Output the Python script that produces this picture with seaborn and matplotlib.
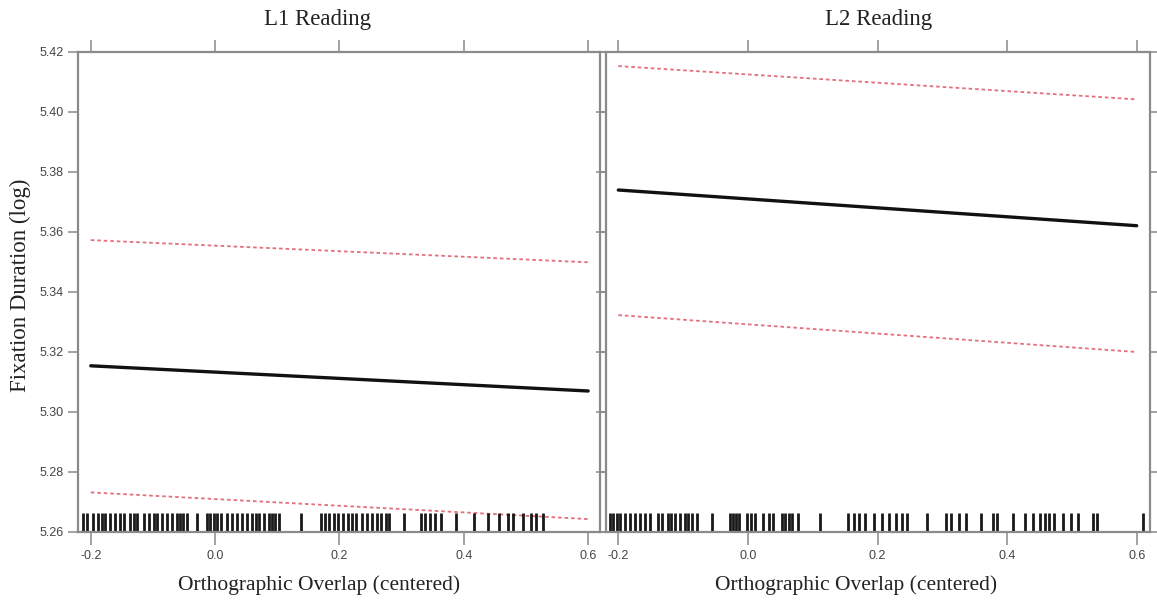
import numpy as np
import pandas as pd
import matplotlib
matplotlib.use("Agg")
import matplotlib.pyplot as plt
import seaborn as sns
from matplotlib.ticker import FormatStrFormatter

# --- Data ---
x_ends = [-0.2, 0.6]

l1_fit = [5.3154, 5.3070]
l1_upper = [5.3573, 5.3499]
l1_lower = [5.2732, 5.2643]

l2_fit = [5.3740, 5.3621]
l2_upper = [5.4153, 5.4042]
l2_lower = [5.3323, 5.3200]

# rug (observed orthographic overlap values)
l1_rug = [-0.212, -0.206, -0.197, -0.188, -0.182, -0.177, -0.169, -0.161, -0.153,
          -0.146, -0.137, -0.130, -0.125, -0.115, -0.107, -0.099, -0.093, -0.085,
          -0.077, -0.069, -0.062, -0.056, -0.051, -0.045, -0.029, -0.013, -0.008,
          -0.002, 0.003, 0.010, 0.019, 0.027, 0.035, 0.044, 0.052, 0.060, 0.065,
          0.070, 0.078, 0.086, 0.092, 0.097, 0.103, 0.138, 0.170, 0.176, 0.183,
          0.191, 0.198, 0.205, 0.213, 0.220, 0.226, 0.237, 0.245, 0.253, 0.261,
          0.267, 0.275, 0.280, 0.304, 0.331, 0.337, 0.345, 0.353, 0.363, 0.388,
          0.417, 0.439, 0.457, 0.471, 0.479, 0.495, 0.508, 0.516, 0.527]
l2_rug = [-0.213, -0.208, -0.202, -0.197, -0.190, -0.182, -0.174, -0.166, -0.159,
          -0.151, -0.138, -0.133, -0.123, -0.118, -0.112, -0.105, -0.097, -0.092,
          -0.087, -0.079, -0.056, -0.028, -0.023, -0.018, -0.013, -0.002, 0.005,
          0.011, 0.024, 0.032, 0.039, 0.052, 0.057, 0.063, 0.068, 0.078, 0.112,
          0.155, 0.163, 0.171, 0.181, 0.194, 0.207, 0.218, 0.228, 0.238, 0.246,
          0.277, 0.306, 0.313, 0.326, 0.337, 0.360, 0.378, 0.385, 0.409, 0.427,
          0.440, 0.450, 0.458, 0.465, 0.473, 0.486, 0.499, 0.509, 0.533, 0.538,
          0.610]

x_ticks = [-0.2, 0.0, 0.2, 0.4, 0.6]
y_ticks = [5.26, 5.28, 5.30, 5.32, 5.34, 5.36, 5.38, 5.40, 5.42]

sns.set_style("white")
tick_font = ['Liberation Sans Narrow', 'Liberation Sans', 'DejaVu Sans']
serif_font = ['Liberation Serif', 'DejaVu Serif']

W, H = 1157, 603
fig = plt.figure(figsize=(W / 100, H / 100), dpi=100)
ax1 = fig.add_axes([78 / W, 71 / H, 522 / W, 480 / H])
ax2 = fig.add_axes([606 / W, 71 / H, 544 / W, 480 / H])

panels = [
    (ax1, l1_fit, l1_upper, l1_lower, l1_rug, (-0.2205, 0.619)),
    (ax2, l2_fit, l2_upper, l2_lower, l2_rug, (-0.219, 0.6205)),
]

ci_color = '#e2707e'
for ax, fit, up, lo, rug, xl in panels:
    df = pd.DataFrame({'x': x_ends, 'fit': fit, 'upper': up, 'lower': lo})
    sns.lineplot(data=df, x='x', y='fit', ax=ax, color='#111111', linewidth=2.4)
    sns.lineplot(data=df, x='x', y='upper', ax=ax, color=ci_color, linewidth=1.3,
                 linestyle=(0, (2.0, 1.6)))
    sns.lineplot(data=df, x='x', y='lower', ax=ax, color=ci_color, linewidth=1.3,
                 linestyle=(0, (2.0, 1.6)))
    sns.rugplot(x=rug, ax=ax, height=0.04, color='black', linewidth=2.0,
                alpha=0.9)
    ax.set_xlim(*xl)
    ax.set_ylim(5.26, 5.42)
    ax.set_xticks(x_ticks)
    ax.set_yticks(y_ticks)
    ax.set_xlabel('')
    ax.set_ylabel('')
    for s in ax.spines.values():
        s.set_color('#8a8a8a')
        s.set_linewidth(1.6)
    ax.tick_params(axis='both', colors='#8a8a8a', width=1.1, direction='out',
                   labelcolor='#444444', labelsize=9)
    ax.tick_params(axis='x', length=9, top=True, bottom=True, pad=4)
    ax.xaxis.set_major_formatter(FormatStrFormatter('%.1f'))
    ax.yaxis.set_major_formatter(FormatStrFormatter('%.2f'))
    for lab in ax.get_xticklabels() + ax.get_yticklabels():
        lab.set_family(tick_font)

ax1.tick_params(axis='y', length=7, left=True, right=True, labelleft=True)
ax2.tick_params(axis='y', length=7, left=True, right=True, labelleft=False)

fig.text(317 / W, 1 - 20 / H, 'L1 Reading', ha='center', va='center',
         family=serif_font, fontsize=16.5, color='#222222')
fig.text(879 / W, 1 - 20 / H, 'L2 Reading', ha='center', va='center',
         family=serif_font, fontsize=16.5, color='#222222')
fig.text(319 / W, 1 - 585 / H, 'Orthographic Overlap (centered)', ha='center',
         va='center', family=serif_font, fontsize=15.5, color='#222222')
fig.text(856 / W, 1 - 585 / H, 'Orthographic Overlap (centered)', ha='center',
         va='center', family=serif_font, fontsize=15.5, color='#222222')
fig.text(20 / W, 1 - 285 / H, 'Fixation Duration (log)', ha='center',
         va='center', rotation=90, family=serif_font, fontsize=16.5,
         color='#222222')

fig.savefig('out.png', dpi=100)
